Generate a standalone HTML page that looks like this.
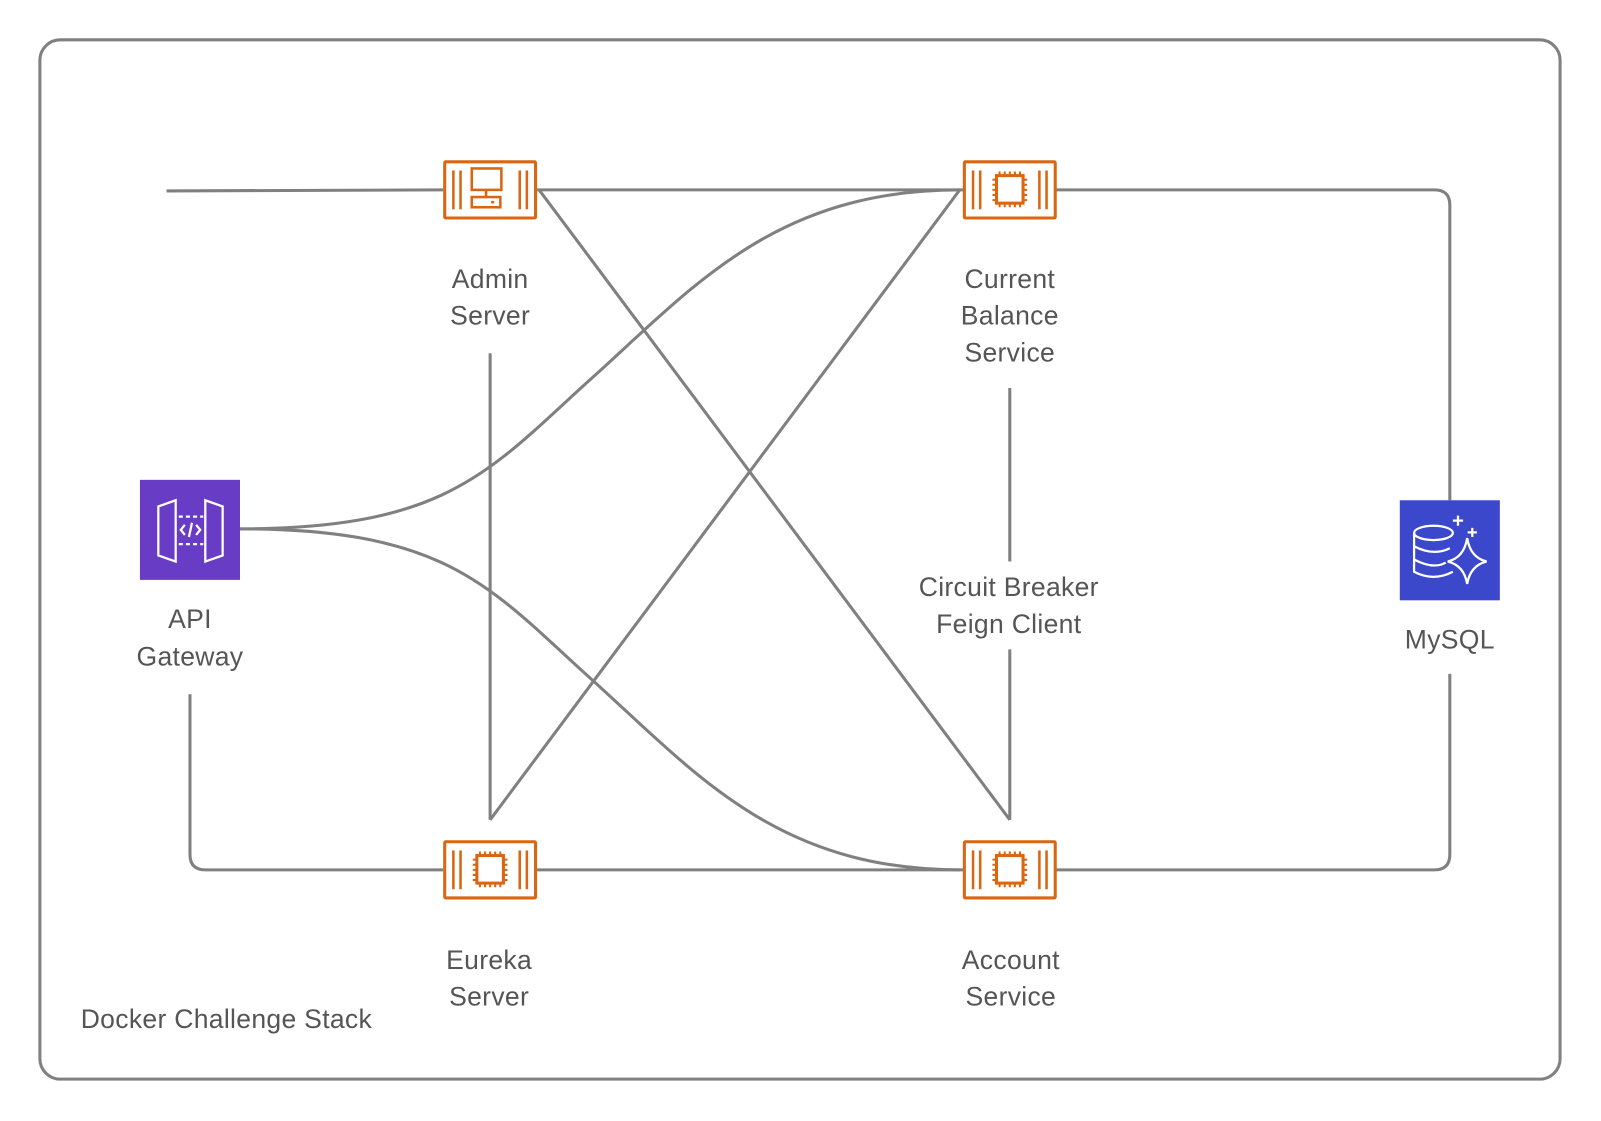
<!DOCTYPE html>
<html><head><meta charset="utf-8"><style>
html,body{margin:0;padding:0;background:#fff;}
svg{display:block;}
text{font-family:"Liberation Sans","DejaVu Sans",sans-serif;font-size:26px;fill:#555;text-anchor:middle;letter-spacing:0.3px;}
</style></head><body>
<svg width="1601" height="1121" viewBox="0 0 1568 1098" xmlns="http://www.w3.org/2000/svg">
<defs>
<g id="box">
<rect x="1.5" y="1.5" width="89" height="55" fill="#fff" stroke="#D86613" stroke-width="3" rx="1"/>
<g stroke="#D86613" stroke-width="2.5">
<line x1="10" y1="10" x2="10" y2="48"/><line x1="17" y1="10" x2="17" y2="48"/>
<line x1="75" y1="10" x2="75" y2="48"/><line x1="82" y1="10" x2="82" y2="48"/>
</g>
</g>
<g id="chip" fill="none" stroke="#D86613" stroke-width="3">
<rect x="33" y="15" width="26" height="27"/>
<g stroke-width="2">
<path d="M36 11v4M41 11v4M46 11v4M51 11v4M56 11v4M36 42v4M41 42v4M46 42v4M51 42v4M56 42v4M29 19h4M29 24h4M29 29h4M29 34h4M29 39h4M59 19h4M59 24h4M59 29h4M59 34h4M59 39h4"/>
</g>
</g>
</defs>
<rect x="39" y="39" width="1489" height="1018" rx="20" fill="none" stroke="#808080" stroke-width="3"/>
<g fill="none" stroke="#808080" stroke-width="3">
<path d="M163 187 L434 186"/>
<path d="M526 186 L944 186"/>
<path d="M1034 186 H1405 Q1420 186 1420 201 V490"/>
<path d="M1420 660 V837 Q1420 852 1405 852 H1034"/>
<path d="M526 852 H944"/>
<path d="M186 680 V837 Q186 852 201 852 H434"/>
<path d="M480 346 V803"/>
<path d="M989 380 V550 M989 636 V803"/>
<path d="M528 186 L989 803"/>
<path d="M940 186 L480 803"/>
<path d="M235 518 C440 518 480 460 580 370 C680 280 760 186 940 186"/>
<path d="M235 518 C440 518 480 576 580 666 C680 756 760 852 940 852"/>
</g>
<use href="#box" x="434" y="157"/>
<g fill="none" stroke="#D86613" stroke-width="2.5">
<rect x="462" y="165" width="29" height="21"/><line x1="476" y1="186" x2="476" y2="193"/>
<rect x="462" y="193" width="28" height="10"/><line x1="481" y1="198" x2="484" y2="198"/>
</g>
<use href="#box" x="943" y="157"/><use href="#chip" x="943" y="157"/>
<use href="#box" x="434" y="823"/><use href="#chip" x="434" y="823"/>
<use href="#box" x="943" y="823"/><use href="#chip" x="943" y="823"/>
<rect x="137" y="470" width="98" height="98" fill="#693CC5"/>
<g fill="none" stroke="#fff" stroke-width="2.2">
<path d="M155 496 L172 490 V550 L155 544 Z"/><path d="M218 496 L201 490 V550 L218 544 Z"/>
<path d="M175 506 H199 M175 533 H199" stroke-dasharray="4 3"/>
<path d="M181 514 L177 519 L181 524 M192 514 L196 519 L192 524 M188 512 L185 526"/>
</g>
<rect x="1371" y="490" width="98" height="98" fill="#3B48CC"/>
<g fill="none" stroke="#fff" stroke-width="2.2">
<ellipse cx="1404" cy="522" rx="19" ry="7"/>
<path d="M1385 522 V560 Q1404 570 1423 560 M1385 535 Q1404 545 1420 537 M1385 548 Q1404 558 1416 551"/>
<path d="M1437 527 Q1440 546 1456 550 Q1440 554 1437 572 Q1434 554 1418 550 Q1434 546 1437 527 Z" fill="#3B48CC"/>
<path d="M1428 505 v10 M1423 510 h10 M1442 517 v9 M1437.5 521.5 h9"/>
</g>
<text x="480" y="282">Admin</text><text x="480" y="318">Server</text>
<text x="989" y="282">Current</text><text x="989" y="318">Balance</text><text x="989" y="354">Service</text>
<text x="988" y="584">Circuit Breaker</text><text x="988" y="620">Feign Client</text>
<text x="186" y="615">API</text><text x="186" y="652">Gateway</text>
<text x="1420" y="635">MySQL</text>
<text x="479" y="949">Eureka</text><text x="479" y="985">Server</text>
<text x="990" y="949">Account</text><text x="990" y="985">Service</text>
<text x="79" y="1007" style="text-anchor:start">Docker Challenge Stack</text>
</svg>
</body></html>
